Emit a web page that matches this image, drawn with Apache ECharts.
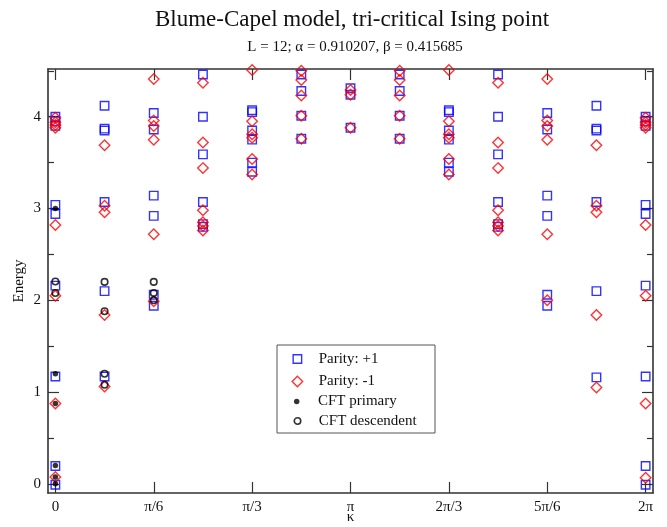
<!DOCTYPE html>
<html><head><meta charset="utf-8">
<script src="https://cdn.jsdelivr.net/npm/echarts@6/dist/echarts.min.js"></script>
<style>html,body{margin:0;padding:0;background:#fff}#c{width:667px;height:527px}</style>
</head><body><div id="c"></div>
<script>
// momentum index n (k = 2*pi*n/12)
const momentumIndex = [0,1,2,3,4,5,6,7,8,9,10,11,12];
const tickPositions = [0,2,4,6,8,10,12];
const tickLabels = ['0','π/6','π/3','π','2π/3','5π/6','2π'];
const yMajorTicks = [0,1,2,3,4];
const yMinorTicks = [0.5,1.5,2.5,3.5,4.5];

// Energies per momentum column
const parityPlus = [
  [4.00,3.95,3.90,3.04,2.94,2.16,1.17,0.195,-0.01],
  [4.12,3.87,3.85,3.07,2.10,1.17],
  [4.04,3.86,3.14,2.92,2.06,1.94],
  [4.46,4.00,3.59,3.07,2.83,2.80],
  [4.07,4.05,3.85,3.75,3.50,3.40],
  [4.46,4.28,4.01,3.76],
  [4.31,4.24,3.88],
  [4.46,4.28,4.01,3.76],
  [4.07,4.05,3.85,3.75,3.50,3.40],
  [4.46,4.00,3.59,3.07,2.83,2.80],
  [4.04,3.86,3.14,2.92,2.06,1.94],
  [4.12,3.87,3.85,3.07,2.10,1.16],
  [4.00,3.95,3.90,3.04,2.94,2.16,1.17,0.195,-0.01]
];
const parityMinus = [
  [3.99,3.94,3.91,3.88,2.82,2.05,0.875,0.075],
  [3.69,3.03,2.96,1.84,1.06],
  [4.41,3.96,3.90,3.75,2.72,1.99],
  [4.37,3.72,3.44,2.98,2.85,2.81,2.76],
  [4.51,3.95,3.81,3.77,3.54,3.37],
  [4.50,4.40,4.23,4.01,3.76],
  [4.29,4.24,3.88],
  [4.50,4.40,4.23,4.01,3.76],
  [4.51,3.95,3.81,3.77,3.54,3.37],
  [4.37,3.72,3.44,2.98,2.85,2.81,2.76],
  [4.41,3.96,3.90,3.75,2.72,2.00],
  [3.69,3.03,2.96,1.84,1.05],
  [3.99,3.94,3.91,3.88,2.82,2.05,0.875,0.065]
];
const cftPrimary = [
  [0,0.075,0.2,0.875,1.2,3.0],
  [],[],[],[],[],[],[],[],[],[],[],[]
];
const cftDescendent = [
  [2.08,2.205],
  [1.08,1.2,1.88,2.2],
  [2.0,2.08,2.2],
  [],[],[],[],[],[],[],[],[],[]
];

function toPairs(cols){
  const out = [];
  cols.forEach((col,i) => col.forEach(e => out.push([momentumIndex[i], e])));
  return out;
}

const FONT = "'Liberation Serif','Times New Roman',serif";
const X_MIN = -0.15, X_MAX = 12.15, Y_MIN = -0.1, Y_MAX = 4.52;
const frameLine = {show:true, onZero:false, lineStyle:{color:'#333', width:1.6}};

function xAx(pos, labels){
  return {
    type:'value', position:pos, min:X_MIN, max:X_MAX,
    axisLine: frameLine,
    splitLine:{show:false},
    axisTick:{show:true, inside:true, length:11, customValues:tickPositions, lineStyle:{color:'#333', width:1.2}},
    axisLabel: labels ? {show:true, customValues:tickPositions, margin:7, fontFamily:FONT, fontSize:15, color:'#111',
      formatter: v => { const i = tickPositions.indexOf(Math.round(v)); return i>=0 ? tickLabels[i] : ''; }} : {show:false},
    name: labels ? 'κ' : '', nameLocation:'middle', nameGap:17, nameMoveOverlap:false,
    nameTextStyle:{fontFamily:FONT, fontSize:15, color:'#111'}
  };
}
function yAx(pos, ticks, len, labels, line){
  return {
    type:'value', position:pos, min:Y_MIN, max:Y_MAX,
    axisLine: line ? frameLine : {show:false, onZero:false},
    splitLine:{show:false},
    axisTick:{show:true, inside:true, length:len, customValues:ticks, lineStyle:{color:'#333', width:1.2}},
    axisLabel: labels ? {show:true, customValues:ticks, margin:7, fontFamily:FONT, fontSize:15, color:'#111',
      formatter: v => String(Math.round(v))} : {show:false},
    name: labels ? 'Energy' : '', nameLocation:'middle', nameGap:21, nameRotate:90, nameMoveOverlap:false,
    nameTextStyle:{fontFamily:FONT, fontSize:15, color:'#111'}
  };
}

function legendFor(name, icon, size, top, style){
  return {
    show:true, data:[{name:name, icon:icon}], orient:'vertical',
    left: 296.7 - size/2, top: top, padding:0,
    itemWidth:size, itemHeight:size, itemGap:0,
    itemStyle: style, selectedMode:false,
    textStyle:{fontFamily:FONT, fontSize:15, color:'#111', lineHeight:16,
      padding:[0,0,0,318 - (296.7 + size/2 + 5)]}
  };
}

const blueStyle = {color:'rgba(0,0,0,0)', borderColor:'#0000ff', borderWidth:1.4};
const redStyle = {color:'rgba(0,0,0,0)', borderColor:'#ff0000', borderWidth:1.4};
const dotStyle = {color:'#000', borderWidth:0};
const ringStyle = {color:'rgba(0,0,0,0)', borderColor:'#000', borderWidth:1.6};

const chart = echarts.init(document.getElementById('c'), null, {renderer:'canvas'});
chart.setOption({
  animation:false,
  backgroundColor:'#fff',
  grid:{left:48, right:14, top:69, bottom:34, containLabel:false, outerBoundsMode:'none'},
  xAxis:[xAx('bottom', true), xAx('top', false)],
  yAxis:[
    yAx('left', yMajorTicks, 11, true, true),
    yAx('left', yMinorTicks, 6, false, false),
    yAx('right', yMajorTicks, 11, false, true),
    yAx('right', yMinorTicks, 6, false, false)
  ],
  legend:[
    legendFor('Parity: +1','rect',8.5,351,blueStyle),
    legendFor('Parity: -1','diamond',10.5,373.5,redStyle),
    legendFor('CFT primary','circle',5.5,393.5,dotStyle),
    legendFor('CFT descendent','circle',6.5,413,ringStyle)
  ],
  graphic:[
    {type:'rect', shape:{x:277, y:345, width:158, height:88}, style:{fill:'none', stroke:'#555', lineWidth:1}, z:0},
    {type:'text', x:352, y:20, style:{text:'Blume-Capel model, tri-critical Ising point', font:"23px 'Liberation Serif','Times New Roman',serif", fill:'#111', textAlign:'center', textVerticalAlign:'middle'}},
    {type:'text', x:355, y:47.5, style:{text:'L = 12; α = 0.910207, β = 0.415685', font:"15px 'Liberation Serif','Times New Roman',serif", fill:'#111', textAlign:'center', textVerticalAlign:'middle'}}
  ],
  series:[
    {name:'Parity: +1', type:'scatter', symbol:'rect', symbolSize:8.5, clip:false, itemStyle:blueStyle, emphasis:{disabled:true}, data:toPairs(parityPlus)},
    {name:'Parity: -1', type:'scatter', symbol:'diamond', symbolSize:10.5, clip:false, itemStyle:redStyle, emphasis:{disabled:true}, data:toPairs(parityMinus)},
    {name:'CFT primary', type:'scatter', symbol:'circle', symbolSize:5.5, clip:false, itemStyle:dotStyle, emphasis:{disabled:true}, data:toPairs(cftPrimary)},
    {name:'CFT descendent', type:'scatter', symbol:'circle', symbolSize:6.5, clip:false, itemStyle:ringStyle, emphasis:{disabled:true}, data:toPairs(cftDescendent)}
  ]
});
</script></body></html>
